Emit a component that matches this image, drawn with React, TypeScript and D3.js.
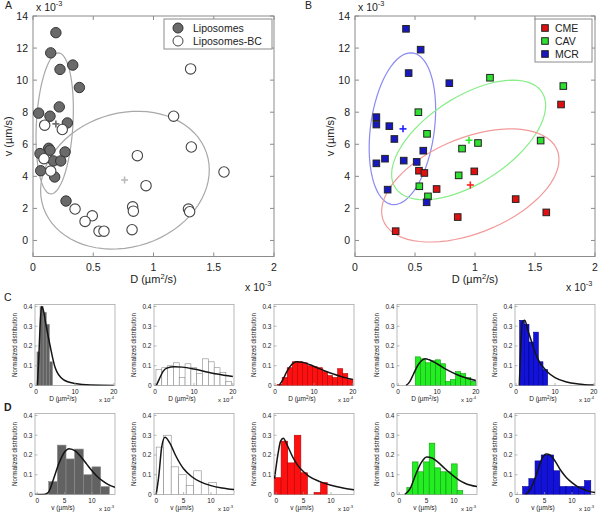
import React from "react";
import * as d3 from "d3";

// ---------- Panel A data (D in 1e-3 µm²/s, v in 1e-3 µm/s) ----------
const liposomesD = [0.19, 0.147, 0.224, 0.33, 0.385, 0.047, 0.141, 0.218, 0.285, 0.13, 0.141, 0.058, 0.266, 0.169, 0.23, 0.064, 0.18, 0.274];
const liposomesV = [12.96, 11.7, 10.67, 10.94, 9.54, 7.94, 7.75, 8.33, 7.33, 5.75, 5.63, 5.42, 5.52, 4.96, 4.96, 4.35, 3.96, 2.46];
const liposomesBCD = [0.097, 0.243, 0.091, 0.147, 1.308, 1.167, 1.314, 1.585, 0.866, 0.938, 0.349, 0.492, 0.432, 0.548, 0.589, 0.827, 0.833, 0.822, 1.29, 1.30];
const liposomesBCV = [7.19, 6.92, 5.10, 4.33, 10.7, 7.75, 5.83, 4.27, 5.29, 3.42, 1.96, 1.54, 1.19, 0.58, 0.58, 2.10, 1.83, 0.67, 1.96, 1.79];
// ellipse: [centerD, centerV, conjDx, conjDv, conjEv]
const ellipseLipo = [0.18, 7.3, 0.155, 0.87, 4.31];
const ellipseLipoBC = [0.763, 3.76, 0.70, 0.64, 4.25];
const meanLipo = [0.19, 7.27];
const meanLipoBC = [0.76, 3.77];

// ---------- Panel B data ----------
const mcrD = [0.425, 0.547, 0.447, 0.786, 0.178, 0.178, 0.286, 0.328, 0.569, 0.25, 0.178, 0.406, 0.514, 0.272, 0.597];
const mcrV = [13.2, 11.9, 10.44, 9.81, 7.69, 7.23, 7.13, 6.33, 5.60, 5.10, 4.81, 4.98, 4.90, 3.17, 2.38];
const cavD = [1.125, 1.736, 0.528, 0.6, 1.025, 0.892, 1.547, 0.864, 0.536, 0.608];
const cavV = [10.15, 9.63, 8.0, 6.65, 6.08, 5.73, 6.23, 4.06, 3.38, 2.75];
const cmeD = [1.717, 0.533, 0.578, 0.994, 0.68, 1.339, 1.594, 0.856, 0.339];
const cmeV = [8.48, 4.35, 4.21, 4.31, 3.21, 2.58, 1.75, 1.46, 0.58];
const ellipseMCR = [0.395, 6.97, 0.277, 1.2, 4.58];
const ellipseCAV = [0.947, 6.27, 0.642, 2.15, 3.05];
const ellipseCME = [0.961, 3.43, 0.739, 1.61, 3.14];
const meanMCR = [0.40, 6.96];
const meanCAV = [0.95, 6.25];
const meanCME = [0.961, 3.46];

const scatterXTicks = [0, 0.5, 1, 1.5, 2];
const scatterYTicks = [0, 2, 4, 6, 8, 10, 12, 14];

// ---------- Row C histograms (D, x1e-4) ----------
const cBins = [
  { start: 0.2, width: 0.8, heights: [0.17, 0.40, 0.37, 0.31, 0.12] },
  { start: 0.2, width: 1.5, heights: [0.08, 0.09, 0.1, 0.115, 0.04, 0.11, 0.09, 0.06, 0.135, 0.12, 0.09, 0.065, 0.02] },
  { start: 0.5, width: 1.3, heights: [0.005, 0.04, 0.09, 0.12, 0.12, 0.115, 0.1, 0.095, 0.09, 0.07, 0.05, 0.04, 0.085, 0.06, 0.03] },
  { start: 4.4, width: 1.3, heights: [0.145, 0.135, 0.115, 0.125, 0.13, 0.11, 0.02, 0.03, 0.07, 0.06, 0.04, 0.02] },
  { start: 0.9, width: 1.2, heights: [0.33, 0.31, 0.22, 0.27, 0.12, 0.08] },
];
const cCurves = [
  [[0.3, 0], [0.7, 0.15], [1.0, 0.3], [1.4, 0.4], [1.8, 0.385], [2.5, 0.31], [3.6, 0.2], [4.9, 0.09], [7, 0.03], [10, 0.01], [14, 0.002], [20, 0]],
  [[0.3, 0], [1, 0.03], [2, 0.07], [3, 0.088], [5, 0.095], [7, 0.093], [10, 0.083], [13, 0.07], [16, 0.058], [20, 0.045]],
  [[1, 0], [2, 0.03], [3, 0.07], [4, 0.1], [5.5, 0.12], [7, 0.118], [9, 0.105], [11, 0.088], [13, 0.072], [15, 0.058], [17, 0.045], [20, 0.03]],
  [[2, 0], [3, 0.02], [4, 0.06], [5, 0.1], [6, 0.125], [7, 0.135], [8, 0.13], [10, 0.11], [12, 0.085], [14, 0.065], [16, 0.048], [18, 0.035], [20, 0.025]],
  [[0.8, 0], [1.2, 0.2], [1.6, 0.32], [2.2, 0.33], [3, 0.28], [4, 0.22], [5, 0.16], [6, 0.12], [8, 0.07], [10, 0.04], [13, 0.018], [16, 0.008], [20, 0.002]],
];

// ---------- Row D histograms (v, x1e-3) ----------
const dBins = [
  { start: 2.1, width: 1.58, heights: [0.065, 0.25, 0.18, 0.23, 0.1, 0.14, 0.04] },
  { start: 0, width: 1.37, heights: [0.24, 0.3, 0.14, 0.1, 0.045, 0.12, 0, 0.06] },
  { start: -0.3, width: 1.2, heights: [0.085, 0.27, 0.16, 0.3, 0.11, 0, 0.01, 0.06] },
  { start: 1.4, width: 1.02, heights: [0.035, 0.165, 0.115, 0.165, 0.26, 0.135, 0.115, 0.115, 0.155, 0.02] },
  { start: 1.0, width: 1.13, heights: [0.04, 0.08, 0.17, 0.2, 0.2, 0.12, 0.04, 0.04, 0.04, 0.04, 0.07] },
];
const dCurves = [
  [[-0.4, 0], [1, 0], [2, 0.01], [3, 0.08], [4, 0.16], [5, 0.215], [5.8, 0.232], [7, 0.22], [8, 0.19], [9, 0.155], [10, 0.12], [11, 0.09], [12, 0.068], [13, 0.05], [14.2, 0.036]],
  [[0, 0], [0.5, 0.1], [1, 0.24], [1.6, 0.29], [2.5, 0.26], [3.5, 0.2], [5, 0.13], [6.5, 0.09], [8, 0.065], [10, 0.045], [12, 0.033], [14.2, 0.025]],
  [[-0.3, 0.08], [0.3, 0.2], [0.8, 0.27], [1.3, 0.285], [2, 0.25], [3, 0.19], [4, 0.145], [5, 0.115], [6, 0.092], [8, 0.065], [10, 0.047], [12, 0.034], [14.2, 0.024]],
  [[1, 0], [2, 0.03], [3, 0.1], [4, 0.16], [5, 0.19], [6, 0.185], [7, 0.165], [8, 0.14], [9, 0.115], [10, 0.092], [11, 0.072], [12, 0.057], [14.2, 0.04]],
  [[1.5, 0], [2.5, 0.03], [3.5, 0.1], [4.5, 0.18], [5.3, 0.205], [6, 0.2], [7, 0.165], [8, 0.12], [9, 0.085], [10, 0.06], [11, 0.04], [12, 0.027], [13, 0.017], [14.2, 0.01]],
];

const histYTicks = [0, 0.1, 0.2, 0.3, 0.4];
const cXTicks = [0, 10, 20];
const dXTicks = [0, 5, 10];
const histFills = ["#626262", "#ffffff", "#ff1010", "#22ee22", "#1212d8"];
const histStrokes = ["#8a8a8a", "#8a8a8a", "#b00000", "#119911", "#000090"];

const FONT = "Liberation Sans, Arial, sans-serif";

function ellipsePath(p: number[], x: any, y: any) {
  const [cx, cy, a, c, e] = p;
  const pts: [number, number][] = [];
  for (let i = 0; i <= 72; i++) {
    const t = (i / 72) * Math.PI * 2;
    pts.push([x(cx + a * Math.cos(t)), y(cy + c * Math.cos(t) + e * Math.sin(t))]);
  }
  return d3.line()(pts) as string;
}

function Sup({ x, y, base, exp, size, anchor }: any) {
  return (
    <text x={x} y={y} fontSize={size} fontFamily={FONT} textAnchor={anchor || "start"} fill="#222">
      {base}
      <tspan dy={-size * 0.45} fontSize={size * 0.7}>{exp}</tspan>
    </text>
  );
}

function ScatterFrame({ x, y, left, label }: any) {
  const [x0, x1] = x.range();
  const [y0, y1] = y.range();
  const tl = 4;
  return (
    <g fontFamily={FONT} fill="#222">
      <rect x={x0} y={y1} width={x1 - x0} height={y0 - y1} fill="none" stroke="#8c8c8c" strokeWidth={1} />
      {scatterXTicks.map((t) => (
        <g key={"x" + t}>
          <line x1={x(t)} x2={x(t)} y1={y0} y2={y0 - tl} stroke="#8c8c8c" />
          <line x1={x(t)} x2={x(t)} y1={y1} y2={y1 + tl} stroke="#8c8c8c" />
          <text x={x(t)} y={y0 + 14} fontSize={10.5} textAnchor="middle">{t}</text>
        </g>
      ))}
      {scatterYTicks.map((t) => (
        <g key={"y" + t}>
          <line x1={x0} x2={x0 + tl} y1={y(t)} y2={y(t)} stroke="#8c8c8c" />
          <line x1={x1} x2={x1 - tl} y1={y(t)} y2={y(t)} stroke="#8c8c8c" />
          <text x={x0 - 5} y={y(t) + 3.8} fontSize={10.5} textAnchor="end">{t}</text>
        </g>
      ))}
      <text x={left - 28} y={9} fontSize={10.5}>{label}</text>
      <Sup x={x0 + 3} y={11} base="x 10" exp="-3" size={10.5} />
      <Sup x={x1 - 29} y={291} base="x 10" exp="-3" size={10.5} />
      <text x={(x0 + x1) / 2} y={283} fontSize={11} textAnchor="middle">
        D (µm<tspan dy={-4} fontSize={7.5}>2</tspan><tspan dy={4}>/s)</tspan>
      </text>
      <text transform={`translate(${x0 - 21},${(y0 + y1) / 2}) rotate(-90)`} fontSize={11} textAnchor="middle">v (µm/s)</text>
    </g>
  );
}

function Plus({ cx, cy, color, s }: any) {
  return (
    <g stroke={color} strokeWidth={1.6}>
      <line x1={cx - s} x2={cx + s} y1={cy} y2={cy} />
      <line x1={cx} x2={cx} y1={cy - s} y2={cy + s} />
    </g>
  );
}

function PanelA() {
  const x = d3.scaleLinear().domain([0, 2]).range([33, 274]);
  const y = d3.scaleLinear().domain([-1, 14]).range([256.5, 16]);
  return (
    <g>
      <ScatterFrame x={x} y={y} left={33} label="A" />
      <path d={ellipsePath(ellipseLipo, x, y)} fill="none" stroke="#a8a8a8" strokeWidth={1.2} />
      <path d={ellipsePath(ellipseLipoBC, x, y)} fill="none" stroke="#a8a8a8" strokeWidth={1.2} />
      {liposomesD.map((d, i) => (
        <circle key={"f" + i} cx={x(d)} cy={y(liposomesV[i])} r={5.2} fill="#6a6a6a" stroke="#333" strokeWidth={1} />
      ))}
      {liposomesBCD.map((d, i) => (
        <circle key={"o" + i} cx={x(d)} cy={y(liposomesBCV[i])} r={5.2} fill="#fff" stroke="#444" strokeWidth={1.1} />
      ))}
      <Plus cx={x(meanLipo[0])} cy={y(meanLipo[1])} color="#666" s={3.5} />
      <Plus cx={x(meanLipoBC[0])} cy={y(meanLipoBC[1])} color="#bbb" s={3.5} />
      <g fontFamily={FONT} fontSize={10.5} fill="#222">
        <rect x={164} y={19} width={108} height={30} fill="#fff" stroke="#8c8c8c" />
        <circle cx={178} cy={28} r={5} fill="#6a6a6a" stroke="#333" />
        <text x={193} y={32}>Liposomes</text>
        <circle cx={178} cy={41} r={5} fill="#fff" stroke="#444" />
        <text x={193} y={45}>Liposomes-BC</text>
      </g>
    </g>
  );
}

function PanelB() {
  const x = d3.scaleLinear().domain([0, 2]).range([355, 595]);
  const y = d3.scaleLinear().domain([-1, 14]).range([256.5, 16]);
  const sq = 6.6;
  const groups = [
    { D: cmeD, V: cmeV, fill: "#e01010" },
    { D: cavD, V: cavV, fill: "#30e030" },
    { D: mcrD, V: mcrV, fill: "#1818c0" },
  ];
  return (
    <g>
      <ScatterFrame x={x} y={y} left={333} label="B" />
      <path d={ellipsePath(ellipseMCR, x, y)} fill="none" stroke="#8a8af2" strokeWidth={1.2} />
      <path d={ellipsePath(ellipseCAV, x, y)} fill="none" stroke="#88ee88" strokeWidth={1.2} />
      <path d={ellipsePath(ellipseCME, x, y)} fill="none" stroke="#f29a9a" strokeWidth={1.2} />
      {groups.map((g, gi) =>
        g.D.map((d, i) => (
          <rect key={gi + "-" + i} x={x(d) - sq / 2} y={y(g.V[i]) - sq / 2} width={sq} height={sq} fill={g.fill} stroke="#222" strokeWidth={1} />
        ))
      )}
      <Plus cx={x(meanMCR[0])} cy={y(meanMCR[1])} color="#2020ff" s={3.5} />
      <Plus cx={x(meanCAV[0])} cy={y(meanCAV[1])} color="#30ee30" s={3.5} />
      <Plus cx={x(meanCME[0])} cy={y(meanCME[1])} color="#ff2020" s={3.5} />
      <g fontFamily={FONT} fontSize={10.5} fill="#222">
        <rect x={535} y={19} width={57} height={43} fill="#fff" stroke="#8c8c8c" />
        {[["CME", "#e01010"], ["CAV", "#30e030"], ["MCR", "#1818c0"]].map(([n, c], i) => (
          <g key={n}>
            <rect x={545 - sq / 2} y={28 + i * 13 - sq / 2} width={sq} height={sq} fill={c} stroke="#222" />
            <text x={555} y={32 + i * 13}>{n}</text>
          </g>
        ))}
      </g>
    </g>
  );
}

function Hist({ left, top, bins, curve, fill, stroke, row, idx }: any) {
  const w = 80, h = 81;
  const isC = row === "C";
  const x = d3.scaleLinear().domain(isC ? [-0.3, 20.3] : [-0.4, 14.2]).range([left, left + w]);
  const y = d3.scaleLinear().domain([0, 0.41]).range([top + h, top]);
  const xt = isC ? cXTicks : dXTicks;
  const line = d3.line().x((p: any) => x(p[0])).y((p: any) => y(p[1])).curve(d3.curveMonotoneX);
  const cid = `clip-${row}-${idx}`;
  return (
    <g fontFamily={FONT} fill="#222">
      <defs>
        <clipPath id={cid}><rect x={left} y={top} width={w} height={h} /></clipPath>
      </defs>
      <rect x={left} y={top} width={w} height={h} fill="#fff" stroke="#a8a8a8" strokeWidth={0.8} />
      <g clipPath={`url(#${cid})`}>
        {bins.heights.map((hh: number, i: number) => {
          const a = bins.start + i * bins.width;
          return hh > 0 ? (
            <rect key={i} x={x(a)} y={y(hh)} width={x(a + bins.width) - x(a)} height={y(0) - y(hh)} fill={fill} stroke={stroke} strokeWidth={0.6} />
          ) : null;
        })}
        <path d={line(curve) as string} fill="none" stroke="#151515" strokeWidth={1.5} />
      </g>
      {xt.map((t: number) => (
        <g key={"x" + t}>
          <line x1={x(t)} x2={x(t)} y1={top + h} y2={top + h - 2.5} stroke="#999" strokeWidth={0.7} />
          <text x={x(t)} y={top + h + 8} fontSize={6.5} textAnchor="middle">{t}</text>
        </g>
      ))}
      {histYTicks.map((t: number) => (
        <g key={"y" + t}>
          <line x1={left} x2={left + 2.5} y1={y(t)} y2={y(t)} stroke="#999" strokeWidth={0.7} />
          <text x={left - 2.5} y={y(t) + 2.3} fontSize={6.5} textAnchor="end">{t}</text>
        </g>
      ))}
      <text transform={`translate(${left - 18},${top + h / 2}) rotate(-90)`} fontSize={6.3} textAnchor="middle">Normalized distribution</text>
      {isC ? (
        <text x={left + 28} y={top + h + 15.5} fontSize={6.5} textAnchor="middle">
          D (µm<tspan dy={-2.5} fontSize={4.5}>2</tspan><tspan dy={2.5}>/s)</tspan>
        </text>
      ) : (
        <text x={left + 28} y={top + h + 15.5} fontSize={6.5} textAnchor="middle">v (µm/s)</text>
      )}
      <Sup x={left + 64} y={top + h + 16.5} base="x 10" exp={isC ? "-4" : "-3"} size={6} />
    </g>
  );
}

const cLefts = [35, 154, 274, 397, 515];

export default function App() {
  return (
    <svg width={600} height={514} viewBox="0 0 600 514" style={{ position: "absolute", left: 0, top: 0, background: "#fff" }}>
      <rect x={0} y={0} width={600} height={514} fill="#fff" />
      <PanelA />
      <PanelB />
      <text x={4} y={301} fontFamily={FONT} fontSize={10.5} fill="#222">C</text>
      <text x={4} y={411} fontFamily={FONT} fontSize={10.5} fontWeight="bold" fill="#222">D</text>
      {cLefts.map((l, i) => (
        <Hist key={"c" + i} left={l} top={304.5} bins={cBins[i]} curve={cCurves[i]} fill={histFills[i]} stroke={histStrokes[i]} row="C" idx={i} />
      ))}
      {cLefts.map((l, i) => (
        <Hist key={"d" + i} left={l} top={413.5} bins={dBins[i]} curve={dCurves[i]} fill={histFills[i]} stroke={histStrokes[i]} row="D" idx={i} />
      ))}
    </svg>
  );
}
